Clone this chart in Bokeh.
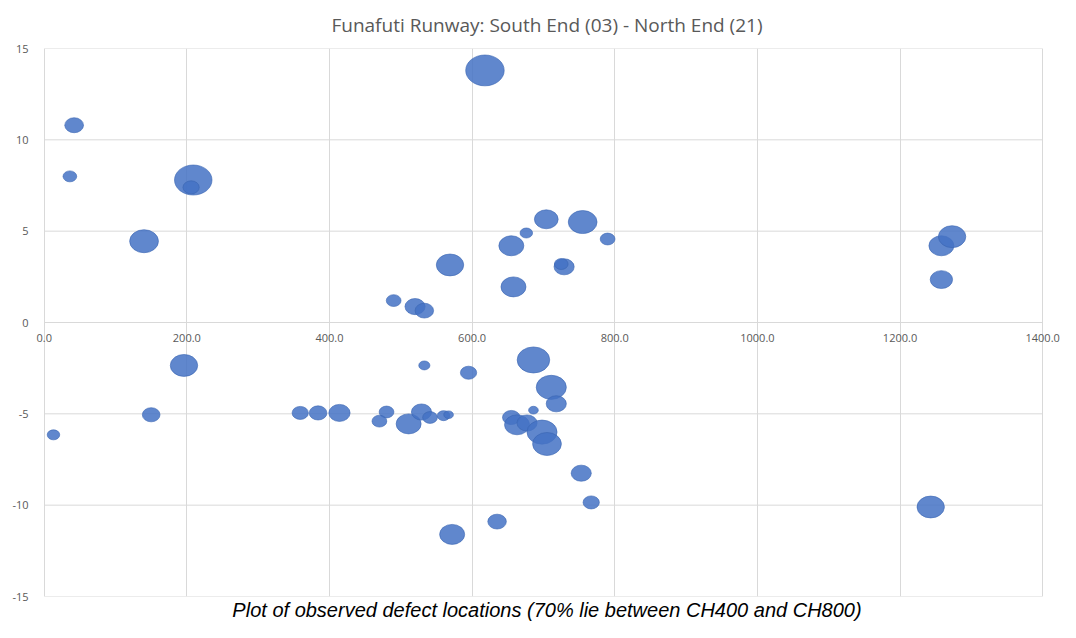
import numpy as np
from bokeh.plotting import figure
from bokeh.models import ColumnDataSource, Range1d, FixedTicker, Title, Label
from bokeh.embed import file_html
from bokeh.resources import INLINE

# chainage (m) along runway, lateral offset (m), relative defect size
chainage = [618, 42, 36, 209, 206, 140, 569, 655, 676, 704, 755, 790, 729, 725, 658,
            1258, 1273, 1258, 490, 520, 533,
            13, 150, 196, 359, 384, 414, 480, 470, 511, 529, 541, 560, 567, 533, 595,
            686, 711, 718, 686, 655, 663, 677, 698, 705, 753, 767, 635, 572, 1243]
offset = [13.8, 10.8, 8.0, 7.8, 7.4, 4.45, 3.15, 4.2, 4.9, 5.65, 5.5, 4.57, 3.05, 3.2, 1.95,
          4.2, 4.7, 2.35, 1.2, 0.87, 0.65,
          -6.15, -5.05, -2.35, -4.95, -4.95, -4.95, -4.9, -5.4, -5.55, -4.9, -5.2, -5.1, -5.05, -2.35, -2.75,
          -2.05, -3.55, -4.45, -4.8, -5.2, -5.6, -5.5, -6.0, -6.65, -8.25, -9.85, -10.9, -11.6, -10.1]
defect_size = [9.5, 2.25, 1.2, 9.0, 1.7, 5.3, 4.8, 4.0, 1.0, 3.6, 5.3, 1.4, 2.6, 1.2, 4.0,
               4.0, 4.8, 3.2, 1.4, 2.6, 2.2,
               1.0, 2.0, 4.8, 1.7, 2.0, 2.9, 1.4, 1.4, 4.0, 2.6, 1.4, 1.0, 0.6, 0.8, 1.7,
               6.8, 5.8, 2.6, 0.6, 2.0, 4.0, 2.6, 5.8, 5.3, 2.6, 1.7, 2.2, 4.0, 4.8]

x_ticks = [0, 200, 400, 600, 800, 1000, 1200, 1400]
x_tick_labels = ["0.0", "200.0", "400.0", "600.0", "800.0", "1000.0", "1200.0", "1400.0"]
y_ticks = [-15, -10, -5, 0, 5, 10, 15]
y_tick_labels = ["-15", "-10", "-5", "0", "5", "10", "15"]

title_text = "Funafuti Runway: South End (03) - North End (21)"
caption_text = "Plot of observed defect locations (70% lie between CH400 and CH800)"

h = 10.0 * np.sqrt(np.array(defect_size))
src = ColumnDataSource(dict(x=chainage, y=offset, h=h, w=1.25 * h))
grid_src = ColumnDataSource(dict(x0=[x_ticks[0]] * len(y_ticks), x1=[x_ticks[-1]] * len(y_ticks),
                                 y=y_ticks))

# small padding either side of the 0-1400 axis so edge tick labels are not clipped
p = figure(width=1060, height=622, x_range=Range1d(-15, 1425), y_range=Range1d(-15, 15),
           output_backend="svg", toolbar_location=None,
           min_border_left=33, min_border_right=0, min_border_top=48, min_border_bottom=26)
p.background_fill_color = "white"
p.border_fill_color = "white"
p.outline_line_color = None

p.title.text = title_text
p.title.align = "center"
p.title.text_font = "Open Sans"
p.title.text_font_size = "19px"
p.title.text_font_style = "normal"
p.title.text_color = "#595959"
p.title.standoff = 18
p.title.vertical_align = "top"

p.add_layout(Title(text=caption_text, align="center", text_font="Liberation Sans",
                   text_font_style="italic", text_font_size="20px", text_color="#000000",
                   standoff=0), "below")

# horizontal gridlines spanning the 0-1400 axis only
p.segment(x0="x0", x1="x1", y0="y", y1="y", source=grid_src, line_color="#d9d9d9", line_width=1)

p.ellipse(x="x", y="y", width="w", height="h", width_units="screen", height_units="screen",
          source=src, fill_color="#4472C4", fill_alpha=0.85, line_color="#3a65b3", line_alpha=0.6)

p.xgrid.ticker = FixedTicker(ticks=x_ticks)
p.xgrid.grid_line_color = "#d9d9d9"
p.ygrid.grid_line_color = None

p.xaxis.ticker = FixedTicker(ticks=x_ticks)
p.xaxis.fixed_location = 0
p.xaxis.major_label_text_alpha = 0
p.xaxis.axis_line_color = None
p.xaxis.major_tick_line_color = "#d9d9d9"
p.xaxis.major_tick_out = 4
p.xaxis.major_tick_in = 0
p.xaxis.minor_tick_line_color = None

p.yaxis.ticker = FixedTicker(ticks=y_ticks)
p.yaxis.major_label_overrides = {t: l for t, l in zip(y_ticks, y_tick_labels)}
p.yaxis.axis_line_color = None
p.yaxis.major_tick_line_color = None
p.yaxis.major_tick_out = 0
p.yaxis.major_tick_in = 0
p.yaxis.minor_tick_line_color = None
p.yaxis.major_label_standoff = 5
p.yaxis.major_label_text_font = "Open Sans"
p.yaxis.major_label_text_font_size = "11px"
p.yaxis.major_label_text_color = "#595959"

for tx, tl in zip(x_ticks, x_tick_labels):
    p.add_layout(Label(x=tx, y=0, text=tl, y_offset=-15, text_align="center",
                       text_baseline="middle", text_font="Open Sans",
                       text_font_size="11px", text_color="#595959"))

open("out.html", "w").write(file_html(p, INLINE))
